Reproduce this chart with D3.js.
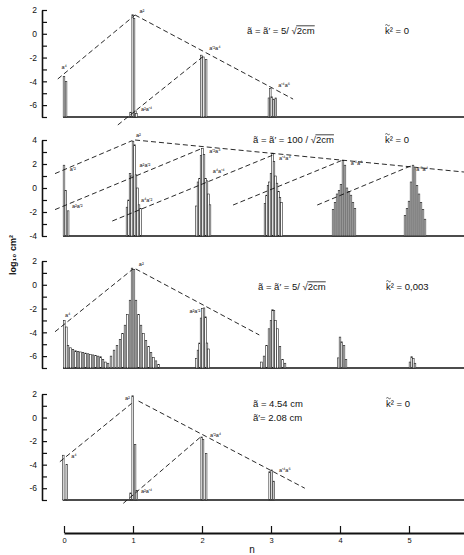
<!DOCTYPE html>
<html>
<head>
<meta charset="utf-8">
<script src="https://cdn.jsdelivr.net/npm/d3@7"></script>
<style>
  body { margin: 0; background: #fff; }
  text { font-family: "Liberation Sans", Arial, sans-serif; fill: #111; }
</style>
</head>
<body>
<div id="chart"></div>
<script>
// bars are [n, log10 value]
const p1Bars = [
  [0, -3.6], [0.03, -4.0],
  [0.965, -6.6], [0.995, 1.6], [1.015, 1.3], [1.035, -6.5], [1.05, -6.7],
  [1.99, -1.8], [2.02, -1.95], [2.06, -2.15],
  [2.97, -5.4], [2.99, -4.6], [3.01, -5.3], [3.04, -5.5], [3.07, -5.4]
];
const p2Bars = [
  [0, 1.9], [0.025, -0.2], [0.06, -1.9],
  [0.913, -1.6], [0.935, -1.0], [0.957, 1.2], [0.978, 1.0], [1.0, 3.9],
  [1.022, 3.6], [1.043, 1.1], [1.065, 0.0], [1.087, -1.4], [1.109, -1.7],
  [1.92, -1.5], [1.942, 0.5], [1.964, 0.8], [1.986, 2.7], [2.007, 3.3],
  [2.029, 2.8], [2.051, 0.8], [2.072, 0.6], [2.094, -0.5], [2.116, -1.4],
  [2.913, -1.3], [2.935, -0.6], [2.957, 0.2], [2.978, 0.5], [3.0, 1.2], [3.022, 2.9],
  [3.043, 2.2], [3.065, 1.0], [3.087, 0.4], [3.109, -0.3], [3.13, -0.8], [3.152, -1.2],
  [3.899, -1.8], [3.928, -1.2], [3.957, -0.5], [3.986, -0.2], [4.014, 0.3], [4.043, 2.3],
  [4.072, 1.9], [4.101, 0.0], [4.13, -0.3], [4.159, -0.6], [4.188, -1.2], [4.217, -1.7],
  [4.942, -2.3], [4.971, -1.7], [5.0, -1.1], [5.029, 0.5], [5.058, 1.9], [5.087, 1.6],
  [5.116, 0.2], [5.145, -0.5], [5.174, -1.2], [5.203, -1.8], [5.232, -2.6]
];
const p3Bars = [
  [0.005, -3.0], [0.035, -3.55],
  [0.058, -5.1], [0.094, -5.3], [0.13, -5.45], [0.167, -5.55], [0.203, -5.6], [0.239, -5.65],
  [0.275, -5.7], [0.312, -5.75], [0.348, -5.8], [0.384, -5.85], [0.42, -5.9], [0.457, -5.95],
  [0.493, -6.0], [0.529, -6.05], [0.565, -6.3], [0.601, -6.5],
  [0.638, -6.6], [0.681, -6.0], [0.725, -5.5], [0.768, -5.1], [0.812, -4.6], [0.848, -4.1],
  [0.884, -3.4], [0.92, -2.5], [0.957, -1.3], [0.986, 1.4], [1.014, 1.3], [1.043, -1.3],
  [1.08, -2.5], [1.116, -3.4], [1.152, -4.1], [1.188, -4.7], [1.225, -5.2], [1.261, -5.7],
  [1.297, -6.1], [1.333, -6.4], [1.37, -6.7],
  [1.92, -6.2], [1.942, -5.5], [1.964, -4.9], [1.986, -2.8], [2.007, -2.0], [2.029, -1.95],
  [2.051, -2.7], [2.072, -4.9], [2.094, -5.4],
  [2.862, -6.5], [2.899, -6.0], [2.935, -5.1], [2.971, -3.7], [3.0, -3.0], [3.022, -2.1],
  [3.043, -2.15], [3.065, -3.0], [3.094, -3.7], [3.13, -5.2], [3.167, -6.3], [3.203, -6.6],
  [3.975, -6.15], [4.0, -4.4], [4.025, -4.8], [4.058, -5.1], [4.087, -6.3],
  [5.014, -6.5], [5.039, -6.05], [5.063, -6.2], [5.087, -6.6]
];
const p4Bars = [
  [-0.01, -3.2], [0.04, -4.0],
  [0.965, -6.4], [0.995, 1.85], [1.03, -2.3], [1.055, -6.2],
  [1.995, -1.65], [2.015, -1.85], [2.06, -3.05],
  [2.98, -4.6], [3.01, -4.45], [3.04, -5.4]
];

// dashed envelope lines, [[n0, v0], [n1, v1]]
const p1Lines = [
  [[-0.09, -3.8], [1.03, 1.58]],
  [[1.03, 1.58], [3.32, -5.49]],
  [[0.78, -7.67], [2.04, -1.8]]
];
const p2Lines = [
  [[1.03, 4.0], [5.8, 1.33]],
  [[-0.13, 1.2], [0.99, 3.95]],
  [[-0.13, -1.8], [2.0, 3.3]],
  [[0.7, -2.75], [3.03, 2.75]],
  [[2.45, -1.42], [4.04, 2.33]],
  [[3.67, -1.42], [5.06, 1.92]]
];
const p3Lines = [
  [[-0.13, -3.95], [1.0, 1.33]],
  [[1.04, 1.33], [2.83, -4.22]]
];
const p4Lines = [
  [[-0.06, -3.75], [0.98, 1.2]],
  [[1.08, 1.4], [3.49, -6.0]],
  [[0.86, -7.28], [1.97, -1.7]]
];

// peak labels [n, v, text, anchor]
const p1Labels = [
  [-0.05, -3.0, "a⁴", "start"], [1.08, 1.75, "a²", "start"],
  [1.1, -6.5, "a²a′⁴", "start"], [2.09, -1.4, "a′²a⁴", "start"],
  [3.09, -4.5, "a′⁴a⁶", "start"]
];
const p2Labels = [
  [0.07, 1.4, "a′²", "start"], [0.1, -1.7, "a²a′²", "start"],
  [1.03, 4.25, "a²", "start"], [1.08, 1.75, "a²a′²", "start"],
  [1.1, -1.2, "a⁴a′²", "start"], [2.09, 2.9, "a′²a⁴", "start"],
  [2.14, 1.25, "a⁴a′⁴", "start"], [3.1, 2.3, "a′⁴a⁴", "start"],
  [4.14, 1.9, "a′⁶a⁴", "start"], [5.09, 1.4, "a′⁸a⁴", "start"]
];
const p3Labels = [
  [0.0, -2.7, "a⁴", "start"], [1.07, 1.58, "a²", "start"],
  [1.99, -2.37, "a²a′²", "end"]
];
const p4Labels = [
  [0.09, -3.45, "a⁴", "start"], [0.97, 1.5, "a²", "end"],
  [1.1, -6.4, "a²a′⁴", "start"], [2.1, -1.65, "a′²a⁴", "start"],
  [3.1, -4.6, "a′⁴a⁶", "start"]
];

const p1Domain = [-7, 2], p2Domain = [-4, 4], p3Domain = [-7, 2], p4Domain = [-7, 2];
const nTicks = [0, 1, 2, 3, 4, 5];

const width = 464, height = 555;
const svg = d3.select("#chart").append("svg")
  .attr("width", width).attr("height", height);

const x = d3.scaleLinear().domain([0, 5.8]).range([64, 464.2]);

const panels = [
  {bars: p1Bars, lines: p1Lines, labels: p1Labels, domain: p1Domain, range: [117, 10]},
  {bars: p2Bars, lines: p2Lines, labels: p2Labels, domain: p2Domain, range: [236, 140]},
  {bars: p3Bars, lines: p3Lines, labels: p3Labels, domain: p3Domain, range: [368, 261]},
  {bars: p4Bars, lines: p4Lines, labels: p4Labels, domain: p4Domain, range: [500, 394]}
];

panels.forEach(p => {
  const y = d3.scaleLinear().domain(p.domain).range(p.range);
  const g = svg.append("g");
  const base = y(p.domain[0]);

  const yAxis = d3.axisLeft(y)
    .tickValues(d3.range(p.domain[0], p.domain[1] + 1))
    .tickFormat(d => d % 2 === 0 ? String(d) : "")
    .tickSize(-5).tickSizeOuter(0).tickPadding(5);
  const ax = g.append("g").attr("transform", "translate(42,0)").call(yAxis);
  ax.select(".domain").attr("stroke", "#111").attr("stroke-width", 1.6);
  ax.selectAll(".tick line").attr("stroke", "#111").attr("stroke-width", 1.2);
  ax.selectAll(".tick text").attr("font-size", 8.5).attr("fill", "#111")
    .attr("font-family", "Liberation Sans, Arial, sans-serif");

  // baseline
  g.append("line")
    .attr("x1", x(0) - 1).attr("x2", width)
    .attr("y1", base).attr("y2", base)
    .attr("stroke", "#111").attr("stroke-width", 1.3);

  g.selectAll(".bar").data(p.bars).enter().append("rect")
    .attr("class", "bar")
    .attr("x", d => x(d[0]) - 0.8)
    .attr("width", 1.6)
    .attr("y", d => y(d[1]))
    .attr("height", d => base - y(d[1]))
    .attr("fill", "#fff").attr("stroke", "#222").attr("stroke-width", 0.6);

  const line = d3.line().x(d => x(d[0])).y(d => y(d[1]));
  g.selectAll(".env").data(p.lines).enter().append("path")
    .attr("class", "env")
    .attr("d", line)
    .attr("fill", "none").attr("stroke", "#111")
    .attr("stroke-width", 0.9).attr("stroke-dasharray", "5,3");

  g.selectAll(".lab").data(p.labels).enter().append("text")
    .attr("class", "lab")
    .attr("x", d => x(d[0]) + (d[3] === "end" ? -1 : 1))
    .attr("y", d => y(d[1]))
    .attr("text-anchor", d => d[3])
    .attr("font-size", 5.5)
    .text(d => d[2]);
});

// annotation with a radical over "2cm"
function rootText(px, py, prefix, rad) {
  const t1 = svg.append("text").attr("x", px).attr("y", py)
    .attr("font-size", 9.5).text(prefix + "√");
  const w = t1.node().getComputedTextLength();
  const t2 = svg.append("text").attr("x", px + w).attr("y", py)
    .attr("font-size", 9.5).text(rad);
  const w2 = t2.node().getComputedTextLength();
  svg.append("line")
    .attr("x1", px + w - 0.5).attr("x2", px + w + w2)
    .attr("y1", py - 8.2).attr("y2", py - 8.2)
    .attr("stroke", "#111").attr("stroke-width", 0.8);
}
function plain(px, py, s) {
  svg.append("text").attr("x", px).attr("y", py).attr("font-size", 9.5).text(s);
}
// k with a small tilde stroke above it
function kText(px, py, rest) {
  const t = svg.append("text").attr("x", px).attr("y", py).attr("font-size", 9.5).text("k");
  const w = t.node().getComputedTextLength();
  svg.append("text").attr("x", px + w).attr("y", py).attr("font-size", 9.5).text(rest);
  const tx = px + 0.3, ty = py - 8.8;
  svg.append("path")
    .attr("d", `M${tx},${ty} q1.1,-1.2 2.2,0 t2.2,0`)
    .attr("fill", "none").attr("stroke", "#111").attr("stroke-width", 0.7);
}

rootText(247, 34, "ã = ã′ = 5/ ", "2cm");
kText(385, 34, "² = 0");
rootText(253, 143, "ã = ã′ = 100 / ", "2cm");
kText(385, 143, "² = 0");
rootText(258, 290, "ã = ã′ = 5/ ", "2cm");
kText(386, 290, "² = 0,003");
plain(253, 407, "ã = 4.54 cm");
plain(253, 421, "ã′= 2.08 cm");
kText(386, 407, "² = 0");

// y title
svg.append("text")
  .attr("transform", "translate(16,255) rotate(-90)")
  .attr("text-anchor", "middle")
  .attr("font-size", 9).attr("font-weight", "bold")
  .text("log₁₀ cm²");

// n axis
const nAxis = d3.axisBottom(x).tickValues(nTicks).tickFormat(d3.format("d"))
  .tickSize(-7).tickSizeOuter(0).tickPadding(5);
const bx = svg.append("g").attr("transform", "translate(0,533)").call(nAxis);
bx.select(".domain").attr("stroke", "#111").attr("stroke-width", 1.8);
bx.selectAll(".tick line").attr("stroke", "#111").attr("stroke-width", 1.2);
bx.selectAll(".tick text").attr("font-size", 7.5).attr("fill", "#111")
  .attr("font-family", "Liberation Sans, Arial, sans-serif");
svg.append("text").attr("x", 252).attr("y", 553)
  .attr("text-anchor", "middle").attr("font-size", 10).text("n");
</script>
</body>
</html>
